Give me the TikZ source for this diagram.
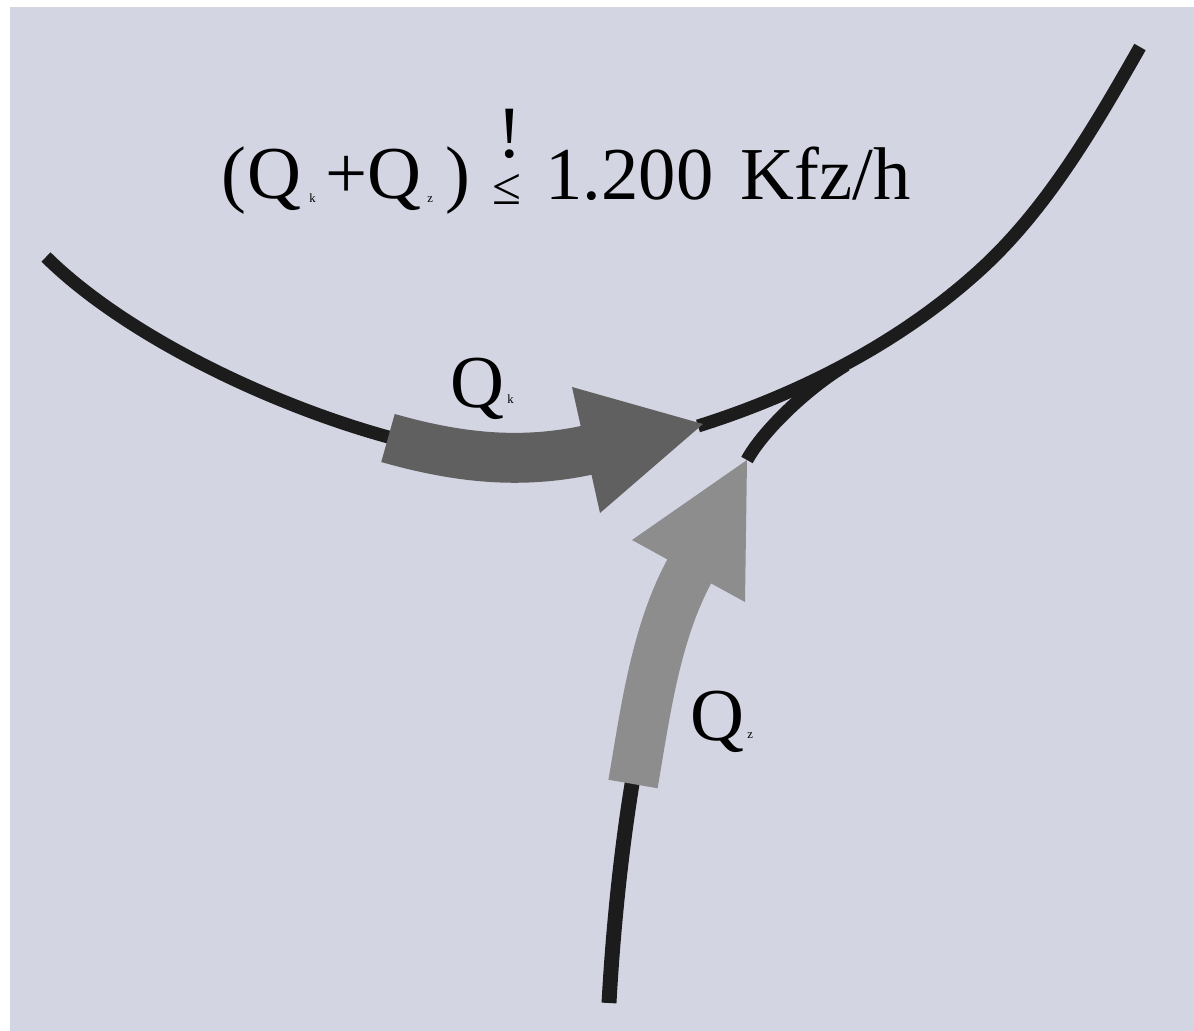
\documentclass[tikz,border=0pt]{standalone}
\usepackage{fontspec}
\setmainfont{Liberation Serif}
\definecolor{bgc}{RGB}{211,213,227}
\definecolor{roadc}{RGB}{28,28,28}
\definecolor{qkc}{RGB}{96,96,96}
\definecolor{qzc}{RGB}{141,141,141}
\begin{document}
\begin{tikzpicture}[x=0.02cm,y=-0.02cm,
  road/.style={draw=roadc, line width=7.4pt, line cap=butt},
  shaftk/.style={draw=qkc, line width=28.4pt, line cap=butt},
  shaftz/.style={draw=qzc, line width=28.4pt, line cap=butt},
  big/.style={inner sep=0pt, anchor=base west, font=\fontsize{42.5}{50}\selectfont},
  tiny/.style={inner sep=0pt, anchor=base west, font=\fontsize{7.2}{8}\selectfont}]
\useasboundingbox (0,0) rectangle (1194,1031);
\fill[white] (0,0) rectangle (1194,1031);
\fill[bgc] (10,7) rectangle (1194,1031);

% key points
\coordinate (a0) at (46,257);
\coordinate (a1) at (392,438);
\coordinate (b0) at (698,426);
\coordinate (bm) at (980,270);
\coordinate (bend) at (1140,47);
\coordinate (kb) at (588,450);
\coordinate (kt) at (703,424);
\coordinate (z0) at (633,784);
\coordinate (zb) at (690,570);
\coordinate (zt) at (747,460);
\coordinate (merge) at (846,365);
\coordinate (d0) at (633,778);
\coordinate (d1) at (609,1003);

% roads
\draw[road] (a0) .. controls (125,335) and (270,405) .. (a1);
\draw[road] (zt) .. controls (762,432) and (806,389) .. (merge);
\draw[road] (b0) .. controls (800,394) and (901,342) .. (bm)
  .. controls (1047,209) and (1095,126) .. (bend);
\draw[road, line width=8.5pt] (d0) .. controls (621,850) and (613,930) .. (d1);

% Q_k arrow
\draw[shaftk] (388,438) .. controls (455,457) and (518,465) .. (kb);
\fill[qkc] (572,387) -- (kt) -- (600,513) -- cycle;

% Q_z arrow
\draw[shaftz] (z0) .. controls (645,715) and (655,634) .. (zb);
\fill[qzc] (632,540) -- (zt) -- (745,602) -- cycle;

% title
\node[big] (t1) at (221,198) {(};
\node[big] (t2) at (247,198) {Q};
\node[tiny] (t3) at (309,202) {k};
\node[big] (t4) at (325,198) {+};
\node[big] (t5) at (367,198) {Q};
\node[tiny] (t6) at (427,202) {z};
\node[big] (t7) at (445,198) {)};
\node[inner sep=0pt, anchor=base] (t8) at (507,204)
  {\makebox[0pt][c]{\fontsize{30}{36}\selectfont ≤}\makebox[0pt][c]{\hspace{3.4pt}\raisebox{26.6pt}{\fontsize{42}{48}\selectfont !}}};
\node[big] (t10) at (545,199) {1.200};
\node[big] (t11) at (740,199) {Kfz/h};

% labels
\node[big] (lk) at (450,407) {Q};
\node[tiny] (lk2) at (507,403) {k};
\node[big] (lz) at (690,740) {Q};
\node[tiny] (lz2) at (747,738) {z};
\end{tikzpicture}
\end{document}
